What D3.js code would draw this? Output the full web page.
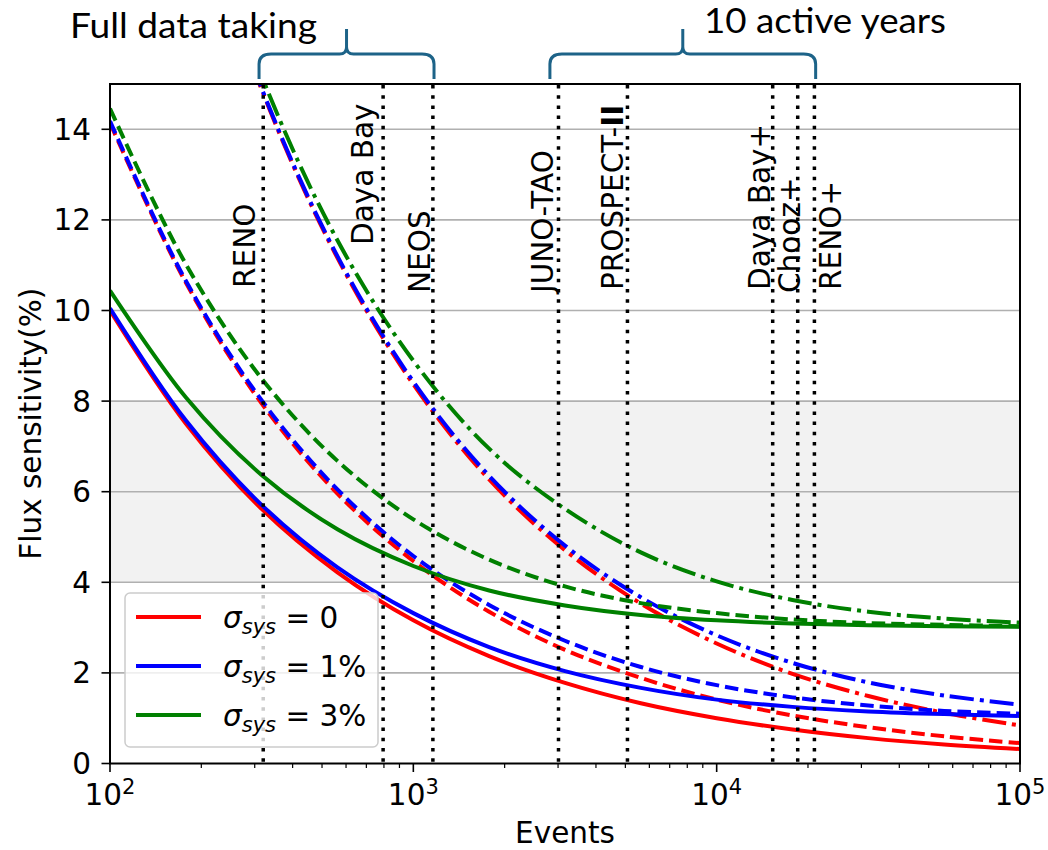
<!DOCTYPE html>
<html>
<head>
<meta charset="utf-8">
<script src="https://cdn.jsdelivr.net/npm/d3@7"></script>
<style>
  body { margin: 0; background: #fff; }
  svg { display: block; font-family: "DejaVu Sans", sans-serif; }
</style>
</head>
<body>
<svg id="chart" width="1048" height="850"></svg>
<script>
// number of events (x values, quarter decades)
var events = [100, 178, 316, 562, 1000, 1778, 3162, 5623, 10000, 17783, 31623, 56234, 100000];

// flux sensitivity (%)
var sigma0Solid   = [10.00, 7.50, 5.62, 4.22, 3.16, 2.37, 1.78, 1.33, 1.00, 0.75, 0.56, 0.42, 0.32];
var sigma0Dashed  = [14.14, 10.61, 7.95, 5.96, 4.47, 3.35, 2.51, 1.89, 1.41, 1.06, 0.80, 0.60, 0.45];
var sigma0DashDot = [26.46, 19.84, 14.88, 11.16, 8.37, 6.27, 4.71, 3.53, 2.65, 1.98, 1.49, 1.12, 0.84];

var sigma1Solid   = [10.05, 7.57, 5.71, 4.33, 3.32, 2.57, 2.04, 1.67, 1.41, 1.25, 1.15, 1.09, 1.05];
var sigma1Dashed  = [14.18, 10.65, 8.02, 6.05, 4.58, 3.50, 2.71, 2.13, 1.73, 1.46, 1.28, 1.16, 1.10];
var sigma1DashDot = [26.48, 19.87, 14.91, 11.20, 8.43, 6.35, 4.81, 3.67, 2.83, 2.22, 1.79, 1.50, 1.30];

var sigma3Solid   = [10.44, 8.08, 6.37, 5.17, 4.36, 3.82, 3.49, 3.28, 3.16, 3.09, 3.05, 3.03, 3.02];
var sigma3Dashed  = [14.46, 11.02, 8.50, 6.68, 5.39, 4.50, 3.91, 3.54, 3.32, 3.18, 3.10, 3.06, 3.03];
var sigma3DashDot = [26.63, 20.07, 15.18, 11.55, 8.89, 6.95, 5.62, 4.66, 4.02, 3.61, 3.35, 3.20, 3.11];

// experiments (vertical dotted lines)
var expNames  = ["RENO", "Daya Bay", "NEOS", "JUNO-TAO", "PROSPECT-II", "Daya Bay+", "Chooz+", "RENO+"];
var expEvents = [320, 795, 1160, 3010, 5080, 15300, 18500, 21000];

// brace annotations
var braceLabels = ["Full data taking", "10 active years"];
var braceFrom   = [310, 2820];
var braceTo     = [1170, 21200];

var legendLabels = ["0", "1%", "3%"];
var yTicks = [0, 2, 4, 6, 8, 10, 12, 14];

var svg = d3.select("#chart"),
    width = +svg.attr("width"),
    height = +svg.attr("height");

// plot box (note: "top" is reserved on window, so use p-prefixed names)
var pLeft = 110, pRight = 1020, pTop = 84, pBottom = 763.5;

var x = d3.scaleLog().domain([100, 100000]).range([pLeft, pRight]);
var y = d3.scaleLinear().domain([0, 15]).range([pBottom, pTop]);

svg.append("rect").attr("width", width).attr("height", height).attr("fill", "#fff");

svg.append("defs").append("clipPath").attr("id", "plotclip")
  .append("rect")
    .attr("x", pLeft).attr("y", pTop)
    .attr("width", pRight - pLeft).attr("height", pBottom - pTop);

// shaded band 4-8 %
svg.append("rect")
    .attr("x", pLeft).attr("width", pRight - pLeft)
    .attr("y", y(8)).attr("height", y(4) - y(8))
    .attr("fill", "#f2f2f2");

// horizontal grid
svg.append("g").selectAll("line")
  .data(yTicks.slice(1))
  .enter().append("line")
    .attr("x1", pLeft).attr("x2", pRight)
    .attr("y1", function(d) { return y(d); })
    .attr("y2", function(d) { return y(d); })
    .attr("stroke", "#b0b0b0")
    .attr("stroke-width", 1.6);

// curves
var series = [
  {v: sigma0Solid,   c: "#ff0000", dash: null},
  {v: sigma0Dashed,  c: "#ff0000", dash: "13.5,6"},
  {v: sigma0DashDot, c: "#ff0000", dash: "24,6,4,6"},
  {v: sigma1Solid,   c: "#0000ff", dash: null},
  {v: sigma1Dashed,  c: "#0000ff", dash: "13.5,6"},
  {v: sigma1DashDot, c: "#0000ff", dash: "24,6,4,6"},
  {v: sigma3Solid,   c: "#008000", dash: null},
  {v: sigma3Dashed,  c: "#008000", dash: "13.5,6"},
  {v: sigma3DashDot, c: "#008000", dash: "24,6,4,6"}
];

var line = d3.line()
    .x(function(d, i) { return x(events[i]); })
    .y(function(d) { return y(d); })
    .curve(d3.curveCatmullRom.alpha(0.5));

svg.append("g")
    .attr("clip-path", "url(#plotclip)")
  .selectAll("path")
  .data(series)
  .enter().append("path")
    .attr("d", function(d) { return line(d.v); })
    .attr("fill", "none")
    .attr("stroke", function(d) { return d.c; })
    .attr("stroke-width", 4)
    .attr("stroke-dasharray", function(d) { return d.dash; });

// experiment lines
svg.append("g").selectAll("line")
  .data(expEvents)
  .enter().append("line")
    .attr("x1", function(d) { return x(d); })
    .attr("x2", function(d) { return x(d); })
    .attr("y1", pTop + 1).attr("y2", pBottom)
    .attr("stroke", "#000")
    .attr("stroke-width", 3.5)
    .attr("stroke-dasharray", "3.5,6.7");

// label placement: offset of baseline from the line, and bottom end of text
var labelDx = [-8, -10, -3, -5, -4, -3, 2, 27];
var labelY  = [288, 245, 293, 293, 290, 290, 293, 290];

var labels = svg.append("g").selectAll("text")
  .data(expNames)
  .enter().append("text")
    .attr("transform", function(d, i) {
      return "translate(" + (x(expEvents[i]) + labelDx[i]) + "," + labelY[i] + ") rotate(-90)";
    })
    .attr("font-size", 29.5)
    .attr("fill", "#000");

labels.each(function(d) {
  var t = d3.select(this);
  if (d == "PROSPECT-II") {
    t.append("tspan").text("PROSPECT-");
    t.append("tspan").attr("font-weight", "bold").text("II");
  } else {
    t.text(d);
  }
});

// axes box
svg.append("rect")
    .attr("x", pLeft).attr("y", pTop)
    .attr("width", pRight - pLeft).attr("height", pBottom - pTop)
    .attr("fill", "none")
    .attr("stroke", "#000")
    .attr("stroke-width", 2);

// x ticks
var majors = [100, 1000, 10000, 100000];
var minors = [];
[100, 1000, 10000].forEach(function(b) {
  for (var k = 2; k <= 9; k++) minors.push(b * k);
});

svg.append("g").selectAll("line")
  .data(majors)
  .enter().append("line")
    .attr("x1", function(d) { return x(d); })
    .attr("x2", function(d) { return x(d); })
    .attr("y1", pBottom).attr("y2", pBottom + 8.5)
    .attr("stroke", "#000").attr("stroke-width", 1.6);

svg.append("g").selectAll("line")
  .data(minors)
  .enter().append("line")
    .attr("x1", function(d) { return x(d); })
    .attr("x2", function(d) { return x(d); })
    .attr("y1", pBottom).attr("y2", pBottom + 4.5)
    .attr("stroke", "#000").attr("stroke-width", 1.2);

var xl = svg.append("g").selectAll("text")
  .data(majors)
  .enter().append("text")
    .attr("x", function(d) { return x(d); })
    .attr("y", 805)
    .attr("text-anchor", "middle")
    .attr("font-size", 29.5);
xl.append("tspan").text("10");
xl.append("tspan")
    .attr("font-size", 21)
    .attr("dy", -11)
    .text(function(d) { return Math.round(Math.log10(d)); });

// y ticks
svg.append("g").selectAll("line")
  .data(yTicks)
  .enter().append("line")
    .attr("x1", pLeft - 8.5).attr("x2", pLeft)
    .attr("y1", function(d) { return y(d); })
    .attr("y2", function(d) { return y(d); })
    .attr("stroke", "#000").attr("stroke-width", 1.6);

svg.append("g").selectAll("text")
  .data(yTicks)
  .enter().append("text")
    .attr("x", 91)
    .attr("y", function(d) { return y(d) + 10.5; })
    .attr("text-anchor", "end")
    .attr("font-size", 29.5)
    .text(function(d) { return d; });

// axis titles
svg.append("text")
    .attr("x", (pLeft + pRight) / 2).attr("y", 843)
    .attr("text-anchor", "middle")
    .attr("font-size", 29.5)
    .text("Events");

svg.append("text")
    .attr("transform", "translate(41," + ((pTop + pBottom) / 2) + ") rotate(-90)")
    .attr("text-anchor", "middle")
    .attr("font-size", 29.5)
    .text("Flux sensitivity(%)");

// legend
var lg = svg.append("g");
lg.append("rect")
    .attr("x", 125).attr("y", 593)
    .attr("width", 253).attr("height", 154)
    .attr("rx", 5)
    .attr("fill", "#fff").attr("fill-opacity", 0.8)
    .attr("stroke", "#cccccc").attr("stroke-width", 1.5);

var legColors = ["#ff0000", "#0000ff", "#008000"];
legendLabels.forEach(function(lab, i) {
  var ly = 617 + i * 49;
  lg.append("line")
      .attr("x1", 136).attr("x2", 201)
      .attr("y1", ly).attr("y2", ly)
      .attr("stroke", legColors[i]).attr("stroke-width", 4);
  var t = lg.append("text")
      .attr("x", 223).attr("y", ly + 11)
      .attr("font-size", 29.5);
  t.append("tspan").attr("font-style", "italic").text("σ");
  t.append("tspan").attr("font-style", "italic").attr("font-size", 21).attr("dy", 6).text("sys");
  t.append("tspan").attr("dy", -6).text(" = " + lab);
});

// braces on top
function bracePath(x0, x1) {
  var yB = 79, yBar = 54, yTip = 29, xm = (x0 + x1) / 2;
  return "M" + x0 + "," + yB +
    " L" + x0 + "," + (yBar + 10) +
    " Q" + x0 + "," + yBar + " " + (x0 + 12) + "," + yBar +
    " L" + (xm - 7) + "," + yBar +
    " Q" + xm + "," + yBar + " " + xm + "," + (yBar - 7) +
    " L" + xm + "," + yTip +
    " M" + xm + "," + (yBar - 7) +
    " Q" + xm + "," + yBar + " " + (xm + 7) + "," + yBar +
    " L" + (x1 - 12) + "," + yBar +
    " Q" + x1 + "," + yBar + " " + x1 + "," + (yBar + 10) +
    " L" + x1 + "," + yB;
}

svg.append("g").selectAll("path")
  .data(braceFrom)
  .enter().append("path")
    .attr("d", function(d, i) { return bracePath(x(d), x(braceTo[i])); })
    .attr("fill", "none")
    .attr("stroke", "#1d6388")
    .attr("stroke-width", 3);

var braceTextX = [70, 704];
var braceTextY = [38, 33];
var braceTextW = [247, 242];
svg.append("g").selectAll("text")
  .data(braceLabels)
  .enter().append("text")
    .attr("x", function(d, i) { return braceTextX[i]; })
    .attr("y", function(d, i) { return braceTextY[i]; })
    .attr("font-family", "Lato, 'Open Sans', sans-serif")
    .attr("font-size", 34)
    .attr("textLength", function(d, i) { return braceTextW[i]; })
    .attr("lengthAdjust", "spacingAndGlyphs")
    .attr("fill", "#000")
    .text(function(d) { return d; });
</script>
</body>
</html>
